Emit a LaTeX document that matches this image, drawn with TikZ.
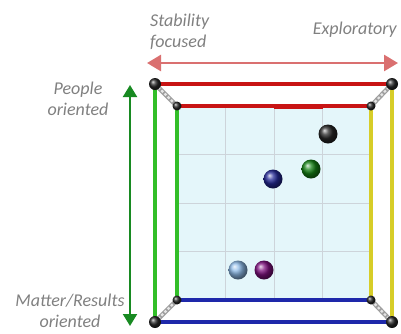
\documentclass[tikz,border=0pt]{standalone}
\usepackage{fontspec}
\setmainfont{Carlito}
\usetikzlibrary{arrows.meta}
\definecolor{lbl}{RGB}{128,128,128}
\definecolor{axred}{RGB}{218,112,112}
\definecolor{axgreen}{RGB}{24,138,34}
\definecolor{edgered}{RGB}{200,20,20}
\definecolor{edgegreen}{RGB}{50,190,40}
\definecolor{edgeyellow}{RGB}{215,205,40}
\definecolor{edgeblue}{RGB}{30,40,170}
\definecolor{panel}{RGB}{228,246,250}
\definecolor{gridc}{RGB}{205,212,218}
\tikzset{
  lab/.style={text=lbl, font=\fontsize{18}{21.5}\selectfont\itshape, inner sep=0pt},
  edge/.style={line width=3.2pt},
  rod/.style={line width=4.6pt, draw=gray!75},
  roddash/.style={line width=2.2pt, draw=white!80!gray, dash pattern=on 2.5pt off 2pt},
  cornerO/.style={circle, minimum size=12pt, inner sep=0pt, ball color=black!85},
  cornerI/.style={circle, minimum size=9pt, inner sep=0pt, ball color=black!85},
  dot/.style={circle, minimum size=19pt, inner sep=0pt},
}
\begin{document}
\begin{tikzpicture}[x=1pt, y=-1pt]
\useasboundingbox (0,0) rectangle (401,333);

% axis labels
\node[lab, anchor=west, align=left] (stab) at (150,32) {Stability\\focused};
\node[lab, anchor=east] (expl) at (397,30) {Exploratory};
\node[lab, align=center] (peop) at (78,99) {People\\oriented};
\node[lab, align=center] (matt) at (70,311) {Matter/Results\\oriented};

% axis arrows
\coordinate (axL) at (147,63);
\coordinate (axR) at (398,63);
\draw[axred, line width=2.6pt, {Triangle[length=14pt,width=16pt]}-{Triangle[length=14pt,width=16pt]}] (axL) -- (axR);
\coordinate (axT) at (130,85);
\coordinate (axB) at (130,326);
\draw[axgreen, line width=2pt, {Triangle[length=12pt,width=14pt]}-{Triangle[length=12pt,width=14pt]}] (axT) -- (axB);

% corners of outer and inner frames
\coordinate (o1) at (155,84);
\coordinate (o2) at (392,84);
\coordinate (o3) at (392,322);
\coordinate (o4) at (155,322);
\coordinate (i1) at (177,106);
\coordinate (i2) at (371,106);
\coordinate (i3) at (371,300);
\coordinate (i4) at (177,300);

% panel with grid
\fill[panel] (i1) rectangle (i3);
\foreach \k in {1,2,3}{
  \draw[gridc, line width=0.9pt] (177+48.5*\k,106) -- (177+48.5*\k,300);
  \draw[gridc, line width=0.9pt] (177,106+48.5*\k) -- (371,106+48.5*\k);
}

% outer frame
\draw[edge, edgegreen] (o1) -- (o4);
\draw[edge, edgeyellow] (o2) -- (o3);
\draw[edge, edgered, line width=4pt] (o1) -- (o2);
\draw[edge, edgeblue] (o4) -- (o3);

% rods from outer to inner corners
\foreach \a/\b in {o1/i1, o2/i2, o3/i3, o4/i4}{
  \draw[rod] (\a) -- (\b);
  \draw[roddash] (\a) -- (\b);
}

% inner frame
\draw[edge, edgegreen] (i1) -- (i4);
\draw[edge, edgeyellow] (i2) -- (i3);
\draw[edge, edgered] (i1) -- (i2);
\draw[edgered, line width=4.5pt] (274,106.5) -- (323,106.5);
\draw[edge, edgeblue] (i4) -- (i3);

% corner joints
\node[cornerO] (c1) at (o1) {};
\node[cornerO] (c2) at (o2) {};
\node[cornerO] (c3) at (o3) {};
\node[cornerO] (c4) at (o4) {};
\node[cornerI] (d1) at (i1) {};
\node[cornerI] (d2) at (i2) {};
\node[cornerI] (d3) at (i3) {};
\node[cornerI] (d4) at (i4) {};

% plotted points
\node[dot, ball color=black!85] (pk) at (328,134) {};
\node[dot, ball color={rgb,255:red,20;green,130;blue,20}] (pg) at (311,169) {};
\node[dot, ball color={rgb,255:red,35;green,40;blue,150}] (pb) at (273,179) {};
\node[dot, ball color={rgb,255:red,140;green,185;blue,230}] (pl) at (238,270) {};
\node[dot, ball color={rgb,255:red,125;green,15;blue,125}] (pp) at (264,270) {};
\end{tikzpicture}
\end{document}
